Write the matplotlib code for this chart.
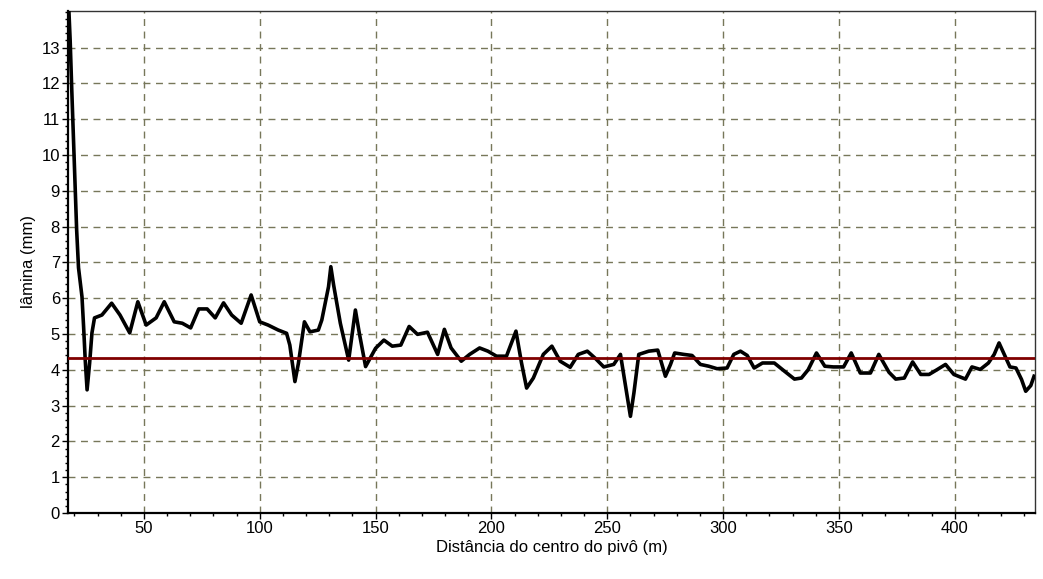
import matplotlib
matplotlib.use('Agg')
from matplotlib import pyplot as plt
from matplotlib.ticker import MultipleLocator

plt.rcParams['font.family'] = ['Liberation Sans', 'DejaVu Sans']

# distancia ao centro do pivo (m) e lamina (mm)
dist = [17.6, 18.2, 18.9, 19.6, 20.3, 21.0, 21.8, 23.3, 24.0, 24.7, 25.5, 26.6,
        27.6, 28.7, 31.9, 36.1, 39.7, 43.9, 47.4, 51.0, 55.3, 58.8, 63.1, 66.6,
        70.2, 73.7, 77.3, 80.8, 84.4, 87.9, 92.0, 96.3, 100.0, 103.6, 108.0, 111.6,
        113.0, 115.2, 116.7, 119.3, 121.7, 125.3, 126.8, 129.7, 130.7, 131.9, 134.8, 138.4,
        141.3, 143.0, 145.7, 150.0, 153.6, 157.2, 160.9, 164.5, 168.1, 172.4, 176.8, 179.7,
        182.6, 187.0, 190.6, 194.9, 198.5, 202.2, 206.5, 210.6, 213.0, 215.2, 218.1, 222.4,
        226.1, 229.7, 234.0, 237.5, 241.4, 245.0, 248.5, 252.8, 255.7, 257.9, 260.0, 261.5,
        263.6, 267.9, 271.8, 275.1, 277.3, 279.1, 283.0, 286.6, 290.2, 293.8, 297.4, 301.7,
        304.6, 307.5, 310.4, 313.4, 317.0, 322.1, 326.5, 330.8, 333.8, 336.7, 340.3, 343.9,
        347.6, 352.0, 355.3, 359.2, 363.6, 367.2, 371.6, 374.5, 378.2, 381.8, 385.3, 388.9,
        392.5, 396.0, 399.6, 404.6, 407.4, 411.0, 414.5, 417.0, 419.1, 421.7, 423.8, 426.4,
        428.8, 430.6, 432.8, 434.2]
lamina = [14.1, 13.2, 11.8, 10.5, 9.2, 7.9, 6.85, 6.04, 5.2, 4.27, 3.44, 4.19,
          5.03, 5.45, 5.53, 5.86, 5.53, 5.03, 5.9, 5.25, 5.45, 5.9, 5.34, 5.3,
          5.17, 5.7, 5.7, 5.45, 5.87, 5.53, 5.3, 6.09, 5.34, 5.25, 5.11, 5.02,
          4.69, 3.67, 4.18, 5.34, 5.06, 5.11, 5.39, 6.32, 6.88, 6.37, 5.3, 4.27,
          5.67, 5.02, 4.09, 4.6, 4.83, 4.66, 4.69, 5.21, 4.99, 5.05, 4.43, 5.13,
          4.61, 4.24, 4.43, 4.61, 4.52, 4.38, 4.38, 5.08, 4.19, 3.49, 3.77, 4.43,
          4.66, 4.24, 4.07, 4.43, 4.52, 4.31, 4.08, 4.15, 4.43, 3.54, 2.70, 3.35,
          4.43, 4.52, 4.55, 3.82, 4.15, 4.47, 4.43, 4.40, 4.15, 4.10, 4.03, 4.05,
          4.43, 4.52, 4.40, 4.05, 4.19, 4.19, 3.96, 3.74, 3.77, 4.0, 4.47, 4.10,
          4.08, 4.08, 4.47, 3.91, 3.91, 4.43, 3.93, 3.74, 3.77, 4.22, 3.87, 3.87,
          4.01, 4.15, 3.87, 3.74, 4.08, 4.01, 4.19, 4.43, 4.75, 4.38, 4.08, 4.05,
          3.73, 3.40, 3.56, 3.82]
media = 4.32
y_ticks = list(range(0, 14))

fig = plt.figure(figsize=(10.43, 5.79), dpi=100)
ax = fig.add_axes([0.0655, 0.114, 0.9268, 0.8675])

ax.plot(dist, lamina, color='black', lw=2.6, zorder=3)
ax.axhline(media, color='#800000', lw=2.0, zorder=4)

ax.set_xlim(17.4, 434.6)
ax.set_ylim(0, 14.03)
ax.xaxis.set_major_locator(MultipleLocator(50))
ax.xaxis.set_minor_locator(MultipleLocator(10))
ax.set_yticks(y_ticks)
ax.yaxis.set_minor_locator(MultipleLocator(0.2))

ax.grid(True, which='major', color='#77775a', linestyle=(0, (5, 4)), lw=1.0, zorder=1)
ax.tick_params(which='major', direction='out', length=4, width=1, labelsize=12, pad=2)
ax.tick_params(which='minor', direction='out', length=2, width=1)

for s in ['left', 'bottom']:
    ax.spines[s].set_linewidth(1.6)
    ax.spines[s].set_color('black')
for s in ['top', 'right']:
    ax.spines[s].set_linewidth(1.0)
    ax.spines[s].set_color('#333333')

ax.set_xlabel('Distância do centro do pivô (m)', fontsize=12, labelpad=3)
ax.set_ylabel('lâmina (mm)', fontsize=12, labelpad=4)

plt.savefig('out.png', dpi=100)
